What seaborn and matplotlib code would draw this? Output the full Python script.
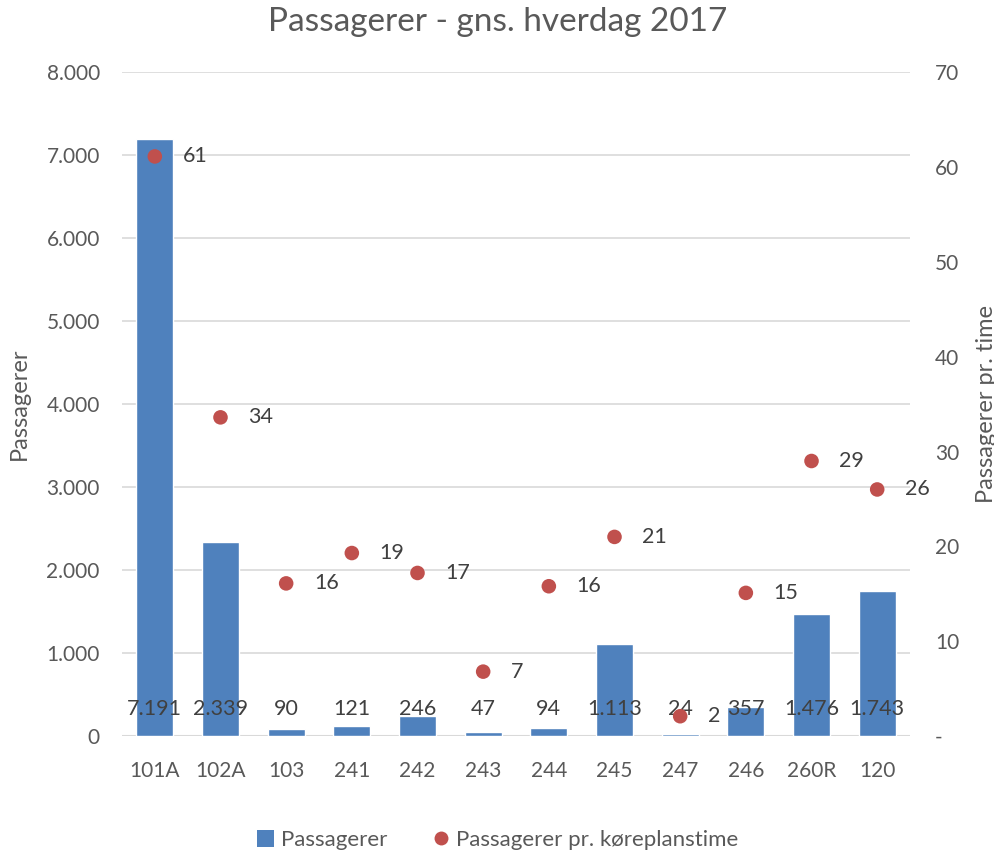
import matplotlib
matplotlib.use("Agg")
import matplotlib.pyplot as plt
import seaborn as sns
import pandas as pd
from matplotlib.lines import Line2D
from matplotlib.patches import Patch

categories = ["101A", "102A", "103", "241", "242", "243", "244", "245", "247", "246", "260R", "120"]
passagerer = [7191, 2339, 90, 121, 246, 47, 94, 1113, 24, 357, 1476, 1743]
pr_time = [61.1, 33.6, 16.1, 19.3, 17.2, 6.8, 15.8, 21.0, 2.1, 15.1, 29.0, 26.0]
left_ticks = [0, 1000, 2000, 3000, 4000, 5000, 6000, 7000, 8000]
right_ticks = [0, 10, 20, 30, 40, 50, 60, 70]

sns.set_theme(style="white")
plt.rcParams['font.family'] = ['Lato', 'DejaVu Sans']

BLUE = "#4F81BD"
RED = "#C0504D"
TXT = "#595959"
LBL = "#404040"

df = pd.DataFrame({"Rute": categories, "Passagerer": passagerer, "PrTime": pr_time})

fig = plt.figure(figsize=(9.95, 8.55), dpi=100)
ax = fig.add_axes([0.1226, 0.139, 0.792, 0.7768])
sns.barplot(data=df, x="Rute", y="Passagerer", color=BLUE, saturation=1, width=0.56, ax=ax, zorder=2)
ax.set_ylim(0, 8000)
ax.set_xlim(-0.5, len(categories) - 0.5)
ax.set_yticks(left_ticks)
ax.set_yticklabels([f"{v:,}".replace(",", ".") for v in left_ticks])
ax.grid(axis="y", color="#D9D9D9", linewidth=1.2, zorder=0)
ax.set_axisbelow(True)
for s in ax.spines.values():
    s.set_visible(False)
ax.axhline(0, color="#D9D9D9", linewidth=1.5, zorder=1)
ax.tick_params(axis="both", length=0, labelsize=15, colors=TXT, pad=16)
ax.tick_params(axis="x", pad=18)
ax.set_xlabel("")
ax.set_ylabel("Passagerer", fontsize=17, color=TXT, labelpad=12)

for i, v in enumerate(passagerer):
    ax.annotate(f"{v:,}".replace(",", "."), xy=(i, 0), xytext=(0, 12), textcoords="offset points",
                ha="center", va="bottom", fontsize=15.5, color=LBL, zorder=5)

ax2 = ax.twinx()
sns.scatterplot(data=df, x="Rute", y="PrTime", color=RED, s=110, edgecolor="none", ax=ax2, zorder=4, legend=False)
ax2.set_ylim(0, 70)
ax2.set_yticks(right_ticks)
ax2.set_yticklabels(["-"] + [str(v) for v in right_ticks[1:]])
for s in ax2.spines.values():
    s.set_visible(False)
ax2.tick_params(axis="y", length=0, labelsize=15, colors=TXT, pad=18)
ax2.set_ylabel("Passagerer pr. time", fontsize=17, color=TXT, labelpad=12)
ax2.set_xlabel("")
for i, v in enumerate(pr_time):
    ax2.annotate(f"{v:.0f}", xy=(i, v), xytext=(20, 0), textcoords="offset points",
                 ha="left", va="center", fontsize=15.5, color=LBL)

fig.suptitle("Passagerer - gns. hverdag 2017", y=0.992, fontsize=24, color=TXT)

handles = [Patch(facecolor=BLUE, edgecolor="none"),
           Line2D([0], [0], marker="o", color="none", markerfacecolor=RED, markeredgecolor="none", markersize=10)]
fig.legend(handles, ["Passagerer", "Passagerer pr. køreplanstime"], loc="lower center",
           bbox_to_anchor=(0.5, -0.018), ncol=2, frameon=False, fontsize=16,
           labelcolor=TXT, handlelength=0.8, handleheight=0.8, handletextpad=0.3, columnspacing=2.0)

fig.savefig("out.png", dpi=100)
